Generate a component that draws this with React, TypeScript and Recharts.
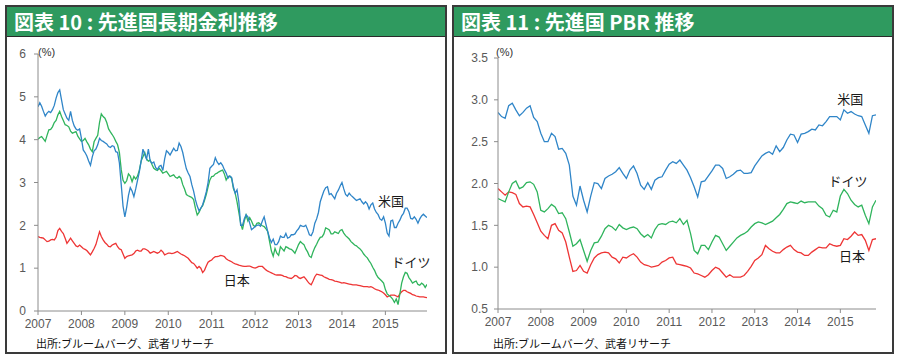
import { LineChart, Line, XAxis, YAxis, ReferenceDot } from 'recharts';

// 長期金利 (semi-monthly, 2007/01 - 2015/12)
const us10y = [
  4.77, 4.86, 4.78, 4.66, 4.55, 4.62, 4.66, 4.63, 4.7, 4.8, 4.97, 5.1, 5.16, 4.93, 4.7, 4.6, 4.5, 4.45, 4.66, 4.45, 4.32, 4.25, 4.22, 4.25,
  4.03, 3.76, 3.7, 3.62, 3.5, 3.4, 3.6, 3.74, 3.78, 3.88, 4.03, 3.98, 3.96, 3.93, 3.9, 3.84, 3.82, 3.86, 3.84, 3.72, 3.7, 3.45, 2.95, 2.45,
  2.2, 2.42, 2.7, 2.88, 2.8, 2.67, 2.85, 3.05, 3.25, 3.5, 3.78, 3.65, 3.55, 3.78, 3.5, 3.45, 3.48, 3.35, 3.3, 3.38, 3.4, 3.28, 3.55, 3.74,
  3.7, 3.64, 3.72, 3.8, 3.74, 3.75, 3.92, 3.84, 3.7, 3.5, 3.32, 3.22, 3.14, 2.95, 2.8, 2.6, 2.45, 2.34, 2.4, 2.48, 2.62, 2.78, 3.0, 3.33,
  3.38, 3.42, 3.58, 3.48, 3.42, 3.46, 3.4, 3.3, 3.22, 3.1, 3.15, 3.12, 2.9, 2.75, 2.83, 2.55, 2.0, 2.0, 2.15, 2.25, 2.2, 2.05, 1.9, 1.93,
  1.97, 2.0, 2.01, 1.98, 2.1, 2.2, 2.02, 1.85, 1.7, 1.6, 1.68, 1.55, 1.55, 1.62, 1.75, 1.72, 1.72, 1.81, 1.7, 1.72, 1.78, 1.78, 1.8, 1.87,
  1.92, 2.0, 1.98, 1.97, 2.0, 1.9, 1.78, 1.76, 1.85, 2.05, 2.15, 2.3, 2.55, 2.68, 2.8, 2.88, 2.9, 2.72, 2.74, 2.68, 2.62, 2.75, 2.82, 2.92,
  3.0, 2.85, 2.72, 2.68, 2.75, 2.7, 2.66, 2.62, 2.58, 2.6, 2.62, 2.55, 2.5, 2.55, 2.5, 2.38, 2.48, 2.52, 2.38, 2.3, 2.25, 2.15, 2.12, 2.2,
  2.05, 1.82, 1.75, 2.1, 2.12, 1.95, 1.95, 2.05, 2.12, 2.22, 2.28, 2.4, 2.4, 2.32, 2.16, 2.15, 2.2, 2.14, 2.05, 2.15, 2.22, 2.26, 2.22, 2.18,
];
const de10y = [
  4.01, 4.05, 4.07, 4.02, 3.96, 4.1, 4.23, 4.24, 4.3, 4.4, 4.45, 4.58, 4.66, 4.54, 4.45, 4.35, 4.33, 4.3, 4.2, 4.15, 4.17, 4.19, 4.08, 4.02,
  3.96, 3.98, 4.03, 3.95, 3.88, 3.78, 3.72, 3.95, 4.03, 4.1, 4.4, 4.6, 4.54, 4.5, 4.4, 4.25, 4.18, 4.12, 4.05, 3.96, 3.88, 3.7, 3.3, 3.05,
  2.98, 3.04, 3.2, 3.15, 3.02, 3.14, 3.08, 3.15, 3.29, 3.5, 3.6, 3.7, 3.55, 3.5, 3.52, 3.42, 3.33, 3.3, 3.28, 3.33, 3.28, 3.22, 3.24, 3.26,
  3.2, 3.14, 3.16, 3.18, 3.12, 3.1, 3.14, 3.1, 2.95, 2.85, 2.72, 2.69, 2.67, 2.65, 2.6, 2.4, 2.24, 2.3, 2.4, 2.46, 2.58, 2.72, 2.9, 3.06,
  3.14, 3.15, 3.2, 3.22, 3.25, 3.27, 3.29, 3.2, 3.06, 3.14, 3.15, 3.1, 2.86, 2.75, 2.55, 2.3, 2.05, 1.9, 2.1, 2.24, 2.1, 2.18, 2.1, 2.0,
  1.97, 2.05, 2.06, 2.02, 1.99, 1.97, 1.92, 1.85, 1.62, 1.4, 1.28, 1.46, 1.35, 1.3, 1.5, 1.45, 1.4, 1.5, 1.48, 1.45, 1.44, 1.4, 1.35, 1.45,
  1.55, 1.62, 1.58, 1.55, 1.45, 1.38, 1.28, 1.25, 1.38, 1.48, 1.56, 1.65, 1.72, 1.73, 1.8, 1.94, 1.92, 1.89, 1.8, 1.8, 1.85, 1.83, 1.81, 1.88,
  1.9, 1.82, 1.76, 1.72, 1.68, 1.62, 1.58, 1.54, 1.52, 1.48, 1.45, 1.4, 1.33, 1.28, 1.24, 1.17, 1.11, 1.02, 0.95, 0.85, 0.78, 0.74, 0.7, 0.65,
  0.5, 0.4, 0.36, 0.33, 0.28, 0.2, 0.28, 0.15, 0.4, 0.65, 0.8, 0.9, 0.88, 0.78, 0.72, 0.65, 0.68, 0.7, 0.62, 0.6, 0.65, 0.62, 0.55, 0.62,
];
const jp10y = [
  1.74, 1.72, 1.71, 1.7, 1.66, 1.62, 1.63, 1.66, 1.67, 1.66, 1.72, 1.88, 1.93, 1.86, 1.81, 1.7, 1.58, 1.64, 1.7, 1.64, 1.58, 1.52, 1.5, 1.54,
  1.5, 1.46, 1.44, 1.41, 1.36, 1.31, 1.38, 1.46, 1.55, 1.7, 1.85, 1.74, 1.66, 1.6, 1.56, 1.51, 1.5, 1.54, 1.56, 1.58, 1.5, 1.45, 1.43, 1.33,
  1.23, 1.27, 1.29, 1.3, 1.31, 1.34, 1.4, 1.42, 1.4, 1.4, 1.45, 1.45, 1.43, 1.4, 1.35, 1.37, 1.39, 1.37, 1.35, 1.37, 1.42, 1.38, 1.31, 1.33,
  1.35, 1.35, 1.34, 1.35, 1.37, 1.39, 1.36, 1.33, 1.31, 1.29, 1.26, 1.23, 1.18, 1.13, 1.11, 1.06, 1.0, 1.04, 1.0, 0.9, 0.95, 1.05, 1.14, 1.17,
  1.19, 1.24, 1.27, 1.27, 1.28, 1.3, 1.29, 1.27, 1.22, 1.19, 1.17, 1.15, 1.12, 1.1, 1.09, 1.07, 1.06, 1.05, 1.04, 1.04, 1.05, 1.05, 1.03, 1.01,
  1.0, 1.02, 1.04, 1.04, 1.04, 1.0, 0.96, 0.93, 0.91, 0.89, 0.87, 0.85, 0.84, 0.84, 0.84, 0.83, 0.81, 0.8, 0.78, 0.77, 0.76, 0.79, 0.83, 0.82,
  0.78, 0.76, 0.78, 0.8, 0.75, 0.69, 0.64, 0.61, 0.7, 0.8, 0.86, 0.85, 0.84, 0.83, 0.8, 0.78, 0.76, 0.74, 0.73, 0.72, 0.7, 0.69, 0.68, 0.67,
  0.65, 0.66, 0.65, 0.64, 0.63, 0.62, 0.61, 0.61, 0.61, 0.6, 0.59, 0.58, 0.57, 0.57, 0.57, 0.56, 0.57, 0.55, 0.52, 0.5, 0.49, 0.47, 0.45, 0.42,
  0.38, 0.33, 0.35, 0.37, 0.37, 0.37, 0.35, 0.33, 0.4, 0.45, 0.48, 0.48, 0.45, 0.43, 0.41, 0.38, 0.37, 0.35, 0.34, 0.33, 0.33, 0.33, 0.32, 0.31,
];

// PBR (monthly, 2007/01 - 2015/11)
const usPbr = [
  2.85, 2.8, 2.78, 2.93, 2.96, 2.88, 2.81, 2.85, 2.9, 2.93, 2.79, 2.74,
  2.6, 2.5, 2.5, 2.6, 2.56, 2.41, 2.42, 2.36, 2.22, 1.85, 1.74, 1.97,
  1.8, 1.66, 1.85, 2.01, 2.0, 1.94, 2.06, 2.09, 2.11, 2.14, 2.19, 2.12,
  2.06, 2.16, 2.21, 2.12, 1.98, 1.93, 2.01, 1.93, 2.04, 2.07, 2.08, 2.16,
  2.23, 2.26, 2.24, 2.28, 2.22, 2.16, 2.07, 1.96, 1.84, 2.02, 2.03, 2.09,
  2.15, 2.22, 2.22, 2.18, 2.06, 2.08, 2.11, 2.15, 2.16, 2.12, 2.12, 2.13,
  2.21, 2.27, 2.33, 2.36, 2.38, 2.35, 2.45, 2.38, 2.43, 2.52, 2.59, 2.58,
  2.49, 2.59, 2.6, 2.62, 2.65, 2.64, 2.7, 2.69, 2.74, 2.8, 2.8, 2.8,
  2.76, 2.88, 2.84, 2.86, 2.83, 2.81, 2.8, 2.7, 2.6, 2.81, 2.82,
];
const dePbr = [
  1.82, 1.8, 1.78, 1.9, 2.0, 2.03, 1.94, 1.96, 2.01, 2.02, 1.99, 1.9,
  1.68, 1.66, 1.7, 1.75, 1.72, 1.64, 1.65, 1.58, 1.42, 1.25, 1.28, 1.33,
  1.2, 1.07, 1.2, 1.29, 1.3, 1.37, 1.46, 1.5, 1.48, 1.44, 1.51, 1.47,
  1.45, 1.47, 1.48, 1.46, 1.4, 1.36, 1.39, 1.35, 1.45, 1.51, 1.52, 1.51,
  1.54, 1.55, 1.53, 1.58, 1.51, 1.56, 1.4, 1.2, 1.16, 1.26, 1.26, 1.21,
  1.3, 1.38, 1.36, 1.28, 1.2, 1.25, 1.3, 1.35, 1.38, 1.4, 1.43, 1.48,
  1.52, 1.54, 1.53, 1.51, 1.53, 1.55, 1.59, 1.63, 1.69, 1.76, 1.78, 1.77,
  1.76, 1.79, 1.77, 1.78, 1.78, 1.78, 1.73, 1.7, 1.62, 1.6, 1.68, 1.66,
  1.85, 1.93, 1.88, 1.8, 1.75, 1.72, 1.74, 1.62, 1.52, 1.72, 1.8,
];
const jpPbr = [
  1.94, 1.9, 1.86, 1.9, 1.89, 1.87, 1.76, 1.72, 1.73, 1.72, 1.63, 1.53,
  1.43, 1.38, 1.34, 1.5, 1.52, 1.44, 1.41, 1.3, 1.12, 0.95, 0.96, 1.02,
  0.95, 0.93, 1.03, 1.11, 1.15, 1.17, 1.18, 1.17, 1.12, 1.1, 1.05, 1.12,
  1.11, 1.14, 1.16, 1.12, 1.06, 1.03, 1.02, 1.0, 1.01, 1.02, 1.06, 1.08,
  1.11, 1.12, 1.04, 1.03, 1.02, 1.01, 0.99, 0.93, 0.92, 0.9, 0.88, 0.91,
  0.96, 1.0, 0.98, 0.93, 0.88, 0.91, 0.88, 0.88, 0.88, 0.9, 0.95, 1.01,
  1.08, 1.11, 1.15, 1.26, 1.22, 1.19, 1.17, 1.17, 1.21, 1.24, 1.26, 1.21,
  1.18, 1.17, 1.14, 1.14, 1.18, 1.21, 1.24, 1.23, 1.23, 1.28, 1.26, 1.25,
  1.26, 1.34, 1.33, 1.37, 1.42, 1.38, 1.39, 1.32, 1.2, 1.33, 1.34,
];

const yearTicks = [2007, 2008, 2009, 2010, 2011, 2012, 2013, 2014, 2015];
const yieldTicks = [0, 1, 2, 3, 4, 5, 6];
const pbrTicks = [0.5, 1.0, 1.5, 2.0, 2.5, 3.0, 3.5];

const yieldData = us10y.map((v, i) => ({
  t: 2007 + i / 24,
  us: v,
  de: de10y[i],
  jp: jp10y[i],
}));
const pbrData = usPbr.map((v, i) => ({
  t: 2007 + i / 12,
  us: v,
  de: dePbr[i],
  jp: jpPbr[i],
}));

const BLUE = '#2f85c8';
const GREEN = '#2fb45c';
const RED = '#ee3535';
const AXIS = '#8c8c8c';
const TICK = { fill: '#595959', fontSize: 12, fontFamily: '"Liberation Sans", Arial, sans-serif' };
const JP_FONT = '"Noto Sans CJK JP", sans-serif';

function seriesLabel(value: string) {
  return { value, position: 'center' as const, fill: '#1a1a1a', fontSize: 13, fontFamily: JP_FONT };
}

function Panel({ left, title }: { left: number; title: string }) {
  return (
    <div
      style={{
        position: 'absolute',
        left,
        top: 5,
        width: 442,
        height: 349,
        boxSizing: 'border-box',
        border: '2px solid #3a3a3a',
        background: '#fff',
      }}
    >
      <div
        style={{
          height: 29,
          background: '#2f9a5f',
          borderBottom: '1px solid #2a2a2a',
          color: '#fff',
          fontFamily: JP_FONT,
          fontWeight: 700,
          fontSize: 20,
          lineHeight: '29px',
          paddingLeft: 7,
          whiteSpace: 'pre',
        }}
      >
        {title}
      </div>
    </div>
  );
}

function Footer({ left }: { left: number }) {
  return (
    <div
      style={{
        position: 'absolute',
        left,
        top: 335,
        fontFamily: JP_FONT,
        fontSize: 11,
        color: '#111',
        whiteSpace: 'nowrap',
      }}
    >
      出所:ブルームバーグ、武者リサーチ
    </div>
  );
}

export default function App() {
  return (
    <div style={{ position: 'absolute', left: 0, top: 0, width: 900, height: 360, background: '#fff' }}>
      <Panel left={5} title="図表 10 : 先進国長期金利推移" />
      <Panel left={452} title="図表 11 : 先進国 PBR 推移" />

      <div style={{ position: 'absolute', left: 0, top: 40 }}>
        <LineChart width={450} height={300} data={yieldData} margin={{ top: 14, right: 23, bottom: 9, left: 8 }}>
          <XAxis
            type="number"
            dataKey="t"
            domain={[2007, 2007 + 215 / 24]}
            ticks={yearTicks}
            tickFormatter={(v) => String(Math.round(v))}
            stroke={AXIS}
            tick={TICK}
            tickSize={4}
            tickMargin={4}
            height={20}
            allowDataOverflow
          />
          <YAxis
            type="number"
            domain={[0, 6]}
            ticks={yieldTicks}
            stroke={AXIS}
            tick={TICK}
            tickSize={4}
            tickMargin={8}
            width={30}
          />
          <Line dataKey="jp" stroke={RED} strokeWidth={1.3} dot={false} isAnimationActive={false} />
          <Line dataKey="de" stroke={GREEN} strokeWidth={1.3} dot={false} isAnimationActive={false} />
          <Line dataKey="us" stroke={BLUE} strokeWidth={1.3} dot={false} isAnimationActive={false} />
          <ReferenceDot x={2015.13} y={2.57} r={0} stroke="none" label={seriesLabel('米国')} />
          <ReferenceDot x={2015.59} y={1.14} r={0} stroke="none" label={seriesLabel('ドイツ')} />
          <ReferenceDot x={2011.58} y={0.72} r={0} stroke="none" label={seriesLabel('日本')} />
        </LineChart>
      </div>

      <div style={{ position: 'absolute', left: 450, top: 40 }}>
        <LineChart width={450} height={300} data={pbrData} margin={{ top: 18, right: 24, bottom: 11, left: 18 }}>
          <XAxis
            type="number"
            dataKey="t"
            domain={[2007, 2007 + 106 / 12]}
            ticks={yearTicks}
            tickFormatter={(v) => String(Math.round(v))}
            stroke={AXIS}
            tick={TICK}
            tickSize={4}
            tickMargin={4}
            height={20}
            allowDataOverflow
          />
          <YAxis
            type="number"
            domain={[0.5, 3.5]}
            ticks={pbrTicks}
            tickFormatter={(v) => v.toFixed(1)}
            stroke={AXIS}
            tick={TICK}
            tickSize={4}
            tickMargin={6}
            width={30}
          />
          <Line dataKey="jp" stroke={RED} strokeWidth={1.3} dot={false} isAnimationActive={false} />
          <Line dataKey="de" stroke={GREEN} strokeWidth={1.3} dot={false} isAnimationActive={false} />
          <Line dataKey="us" stroke={BLUE} strokeWidth={1.3} dot={false} isAnimationActive={false} />
          <ReferenceDot x={2015.23} y={3.0} r={0} stroke="none" label={seriesLabel('米国')} />
          <ReferenceDot x={2015.18} y={2.03} r={0} stroke="none" label={seriesLabel('ドイツ')} />
          <ReferenceDot x={2015.27} y={1.13} r={0} stroke="none" label={seriesLabel('日本')} />
        </LineChart>
      </div>

      <div style={{ position: 'absolute', left: 38, top: 46, fontSize: 11, color: '#333', fontFamily: TICK.fontFamily }}>(%)</div>
      <div style={{ position: 'absolute', left: 496, top: 46, fontSize: 11, color: '#333', fontFamily: TICK.fontFamily }}>(%)</div>

      <Footer left={36} />
      <Footer left={493} />
    </div>
  );
}
